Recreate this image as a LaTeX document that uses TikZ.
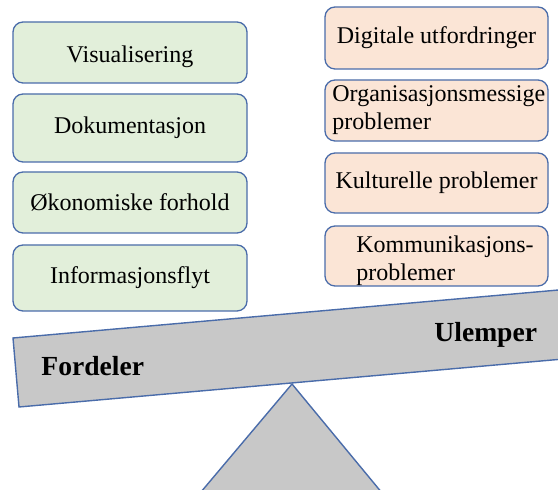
\documentclass[tikz,border=0pt]{standalone}
\usepackage{fontspec}
\setmainfont{Liberation Serif}
\definecolor{kant}{RGB}{74,108,170}
\definecolor{groenn}{HTML}{E2EFDA}
\definecolor{oransje}{HTML}{FBE5D6}
\definecolor{graa}{HTML}{C8C8C8}
\begin{document}
\begin{tikzpicture}[x=0.5pt,y=-0.5pt]
    % Y-aksen er snudd (y=-0.5pt), slik at koordinatene er piksler
    % regnet fra øvre venstre hjørne av bildet.
    \tikzset{
      boks/.style={draw=kant,line width=0.65pt,rounded corners=5pt,
        inner sep=0pt,font=\fontsize{12}{13.8}\selectfont},
      fordel/.style={boks,fill=groenn,minimum width=117pt},
      ulempe/.style={boks,fill=oransje,minimum width=111.5pt},
      tekst/.style={inner sep=0pt,align=left,font=\fontsize{12}{13.8}\selectfont},
      tittel/.style={inner sep=0pt,anchor=base west,
        font=\fontsize{13.8}{16}\selectfont\bfseries},
      vekt/.style={draw=kant,line width=0.7pt,fill=graa}}
    \useasboundingbox (0,0) rectangle (558,490);
    \clip (0,0) rectangle (558,490);
    % Vippe: bjelke og fot
    \filldraw[vekt] (13,338) -- (19,407) -- (575,358) -- (570,289) -- cycle;
    \filldraw[vekt] (292,384) -- (190,505) -- (392,505) -- cycle;
    \node[tittel] (fordeler) at (41,376) {Fordeler};
    \node[tittel] (ulemper) at (434,342) {Ulemper};
    % Fordeler, venstre kolonne
    \node[fordel,minimum height=30.5pt,text height=11pt,text depth=0.5pt]
      (f1) at (130,52.5) {Visualisering};
    \node[fordel,minimum height=34pt] (f2) at (130,128) {Dokumentasjon};
    \node[fordel,minimum height=30.5pt] (f3) at (130,202.5) {Økonomiske forhold};
    \node[fordel,minimum height=33pt] (f4) at (130,278) {Informasjonsflyt};
    % Ulemper, høyre kolonne
    \node[ulempe,minimum height=31pt] (u1) at (436.5,38) {Digitale utfordringer};
    \node[ulempe,minimum height=30.5pt] (u2) at (436.5,110.5) {};
    \node[tekst,anchor=north west] (u2t) at (332,85.5) {Organisasjonsmessige\\problemer};
    \node[ulempe,minimum height=30pt] (u3) at (436.5,183) {Kulturelle problemer};
    \node[ulempe,minimum height=30pt] (u4) at (436.5,256) {};
    \node[tekst,anchor=north west] (u4t) at (356,235.5) {Kommunikasjons-\\problemer};
  \end{tikzpicture}
\end{document}
